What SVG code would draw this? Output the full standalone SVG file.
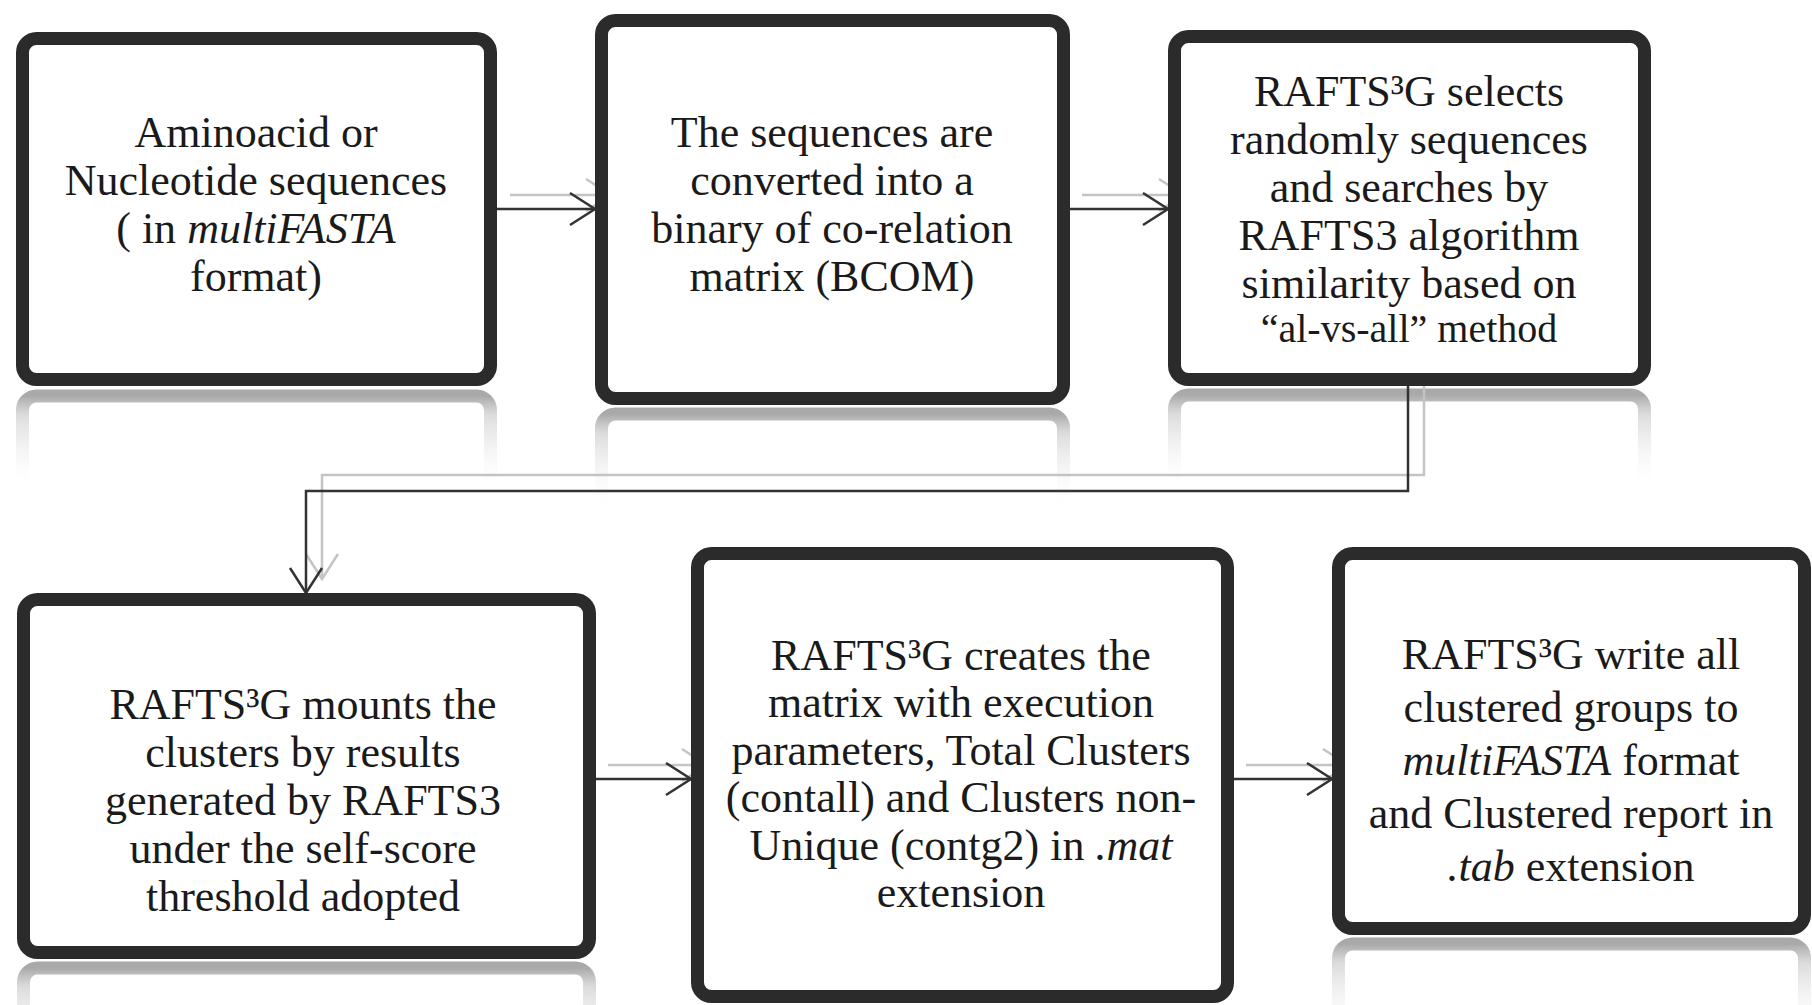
<svg xmlns="http://www.w3.org/2000/svg" width="1812" height="1005" viewBox="0 0 1812 1005">
<defs>
<linearGradient id="refl" x1="0" y1="0" x2="0" y2="1">
<stop offset="0" stop-color="#9a9a9a" stop-opacity="0.85"/>
<stop offset="0.2" stop-color="#c4c4c4" stop-opacity="0.6"/>
<stop offset="1" stop-color="#ffffff" stop-opacity="0"/>
</linearGradient>
<marker id="ah" markerUnits="userSpaceOnUse" markerWidth="30" markerHeight="40" viewBox="0 0 30 40" refX="28" refY="20" orient="auto">
<path d="M3,4 L28,20 L3,36" fill="none" stroke="#333" stroke-width="2.5"/>
</marker>
<marker id="ahg" markerUnits="userSpaceOnUse" markerWidth="30" markerHeight="40" viewBox="0 0 30 40" refX="28" refY="20" orient="auto">
<path d="M3,4 L28,20 L3,36" fill="none" stroke="#c4c4c4" stroke-width="2.5"/>
</marker>
</defs>
<style>
.box{fill:#fff;stroke:#2b2b2b;stroke-width:13}
.rf{fill:none;stroke:url(#refl);stroke-width:13}
.t{font-family:"Liberation Serif","Times New Roman",serif;font-size:44px;fill:#1a1a1a;text-anchor:middle}
.i{font-style:italic}
.c{fill:none;stroke:#333;stroke-width:2.5;marker-end:url(#ah)}
.g{fill:none;stroke:#c4c4c4;stroke-width:2.5;marker-end:url(#ahg)}
</style>
<rect width="1812" height="1005" fill="#fff"/>

<g id="reflections">
<rect class="rf" x="22.5" y="396" width="468" height="95" rx="14"/>
<rect class="rf" x="601.5" y="414" width="462" height="95" rx="14"/>
<rect class="rf" x="1174.5" y="395" width="470" height="95" rx="14"/>
<rect class="rf" x="23.5" y="968" width="566" height="95" rx="14"/>
<rect class="rf" x="1338.5" y="944" width="466" height="95" rx="14"/>
</g>

<g id="connectors">
<path class="g" d="M510,195 H611"/>
<path class="c" d="M497,209 H595"/>
<path class="g" d="M1082,195 H1184"/>
<path class="c" d="M1070,209 H1168"/>
<path class="g" d="M1424,386 V475 H322 V579"/>
<path class="c" d="M1408,386 V491 H306 V593"/>
<path class="g" d="M608,765 H707"/>
<path class="c" d="M596,779 H691"/>
<path class="g" d="M1246,765 H1348"/>
<path class="c" d="M1234,779 H1332"/>
</g>

<g id="n1">
<rect class="box" x="22.5" y="38.5" width="468" height="341" rx="14"/>
<text class="t" x="256" y="147">Aminoacid or</text>
<text class="t" x="256" y="195">Nucleotide sequences</text>
<text class="t" x="256" y="243">( in <tspan class="i">multiFASTA</tspan></text>
<text class="t" x="256" y="291">format)</text>
</g>

<g id="n2">
<rect class="box" x="601.5" y="20.5" width="462" height="378" rx="14"/>
<text class="t" x="832" y="147">The sequences are</text>
<text class="t" x="832" y="195">converted into a</text>
<text class="t" x="832" y="243">binary of co-relation</text>
<text class="t" x="832" y="291">matrix (BCOM)</text>
</g>

<g id="n3">
<rect class="box" x="1174.5" y="36.5" width="470" height="343" rx="14"/>
<text class="t" x="1409" y="106">RAFTS³G selects</text>
<text class="t" x="1409" y="154">randomly sequences</text>
<text class="t" x="1409" y="202">and searches by</text>
<text class="t" x="1409" y="250">RAFTS3 algorithm</text>
<text class="t" x="1409" y="298">similarity based on</text>
<text class="t" x="1409" y="342" style="font-size:40px">“al-vs-all” method</text>
</g>

<g id="n4">
<rect class="box" x="23.5" y="599.5" width="566" height="353" rx="14"/>
<text class="t" x="303" y="719">RAFTS³G mounts the</text>
<text class="t" x="303" y="767">clusters by results</text>
<text class="t" x="303" y="815">generated by RAFTS3</text>
<text class="t" x="303" y="863">under the self-score</text>
<text class="t" x="303" y="911">threshold adopted</text>
</g>

<g id="n5">
<rect class="box" x="697.5" y="553.5" width="530" height="443" rx="14"/>
<text class="t" x="961" y="670">RAFTS³G creates the</text>
<text class="t" x="961" y="717">matrix with execution</text>
<text class="t" x="961" y="765">parameters, Total Clusters</text>
<text class="t" x="961" y="812">(contall) and Clusters non-</text>
<text class="t" x="961" y="860">Unique (contg2) in <tspan class="i">.mat</tspan></text>
<text class="t" x="961" y="907">extension</text>
</g>

<g id="n6">
<rect class="box" x="1338.5" y="553.5" width="466" height="375" rx="14"/>
<text class="t" x="1571" y="669">RAFTS³G write all</text>
<text class="t" x="1571" y="722">clustered groups to</text>
<text class="t" x="1571" y="775"><tspan class="i">multiFASTA</tspan> format</text>
<text class="t" x="1571" y="828">and Clustered report in</text>
<text class="t" x="1571" y="881"><tspan class="i">.tab</tspan> extension</text>
</g>
</svg>
